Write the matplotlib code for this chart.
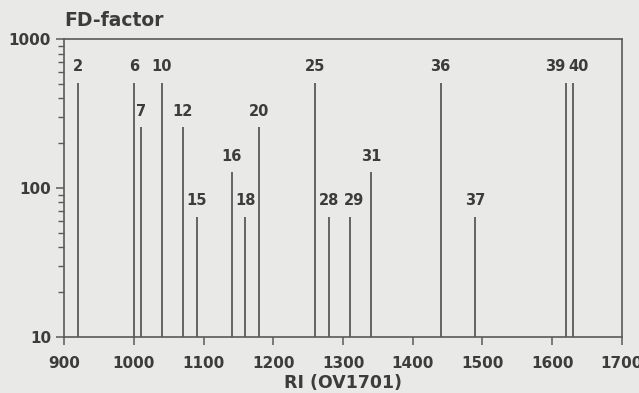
import matplotlib
matplotlib.use("Agg")
import matplotlib.pyplot as plt
from matplotlib.ticker import LogLocator, NullFormatter, FixedLocator, FixedFormatter

peak_ids = ["2", "6", "7", "10", "12", "15", "16", "18", "20", "25", "28", "29", "31", "36", "37", "39", "40"]
ri_values = [920, 1000, 1010, 1040, 1070, 1090, 1140, 1160, 1180, 1260, 1280, 1310, 1340, 1440, 1490, 1620, 1630]
fd_factors = [512, 512, 256, 512, 256, 64, 128, 64, 256, 512, 64, 64, 128, 512, 64, 512, 512]
x_ticks = [900, 1000, 1100, 1200, 1300, 1400, 1500, 1600, 1700]
y_ticks = [10, 100, 1000]

line_col = "#5a5a5a"
text_col = "#3c3c3c"
bg = "#e9e9e7"

plt.rcParams['font.family'] = ['DejaVu Sans']
fig = plt.figure(figsize=(6.39, 3.93), dpi=100, facecolor=bg)
ax = fig.add_axes([0.1006, 0.1433, 0.8724, 0.7567], facecolor=bg)

ax.vlines(ri_values, 10, fd_factors, colors=line_col, linewidth=1.3)

label_dx = {"39": -8, "40": 4, "29": 3}
for pid, x, y in zip(peak_ids, ri_values, fd_factors):
    ax.annotate(pid, (x, y), xytext=(label_dx.get(pid, 0), 6), textcoords="offset points",
                ha="center", va="bottom", fontsize=10.5, fontweight="bold", color=text_col)

ax.set_xlim(900, 1700)
ax.set_yscale("log")
ax.set_ylim(10, 1000)
ax.xaxis.set_major_locator(FixedLocator(x_ticks))
ax.yaxis.set_major_locator(FixedLocator(y_ticks))
ax.yaxis.set_major_formatter(FixedFormatter([str(v) for v in y_ticks]))
ax.yaxis.set_minor_locator(LogLocator(base=10, subs=range(2, 10)))
ax.yaxis.set_minor_formatter(NullFormatter())

for s in ax.spines.values():
    s.set_color(line_col)
    s.set_linewidth(1.2)
ax.tick_params(axis="both", which="major", direction="out", length=6, width=1.1,
               color=line_col, labelcolor=text_col, labelsize=11)
ax.tick_params(axis="x", which="major", pad=8)
ax.tick_params(axis="y", which="minor", direction="out", length=4, width=1.0, color=line_col)
for lab in ax.get_xticklabels() + ax.get_yticklabels():
    lab.set_fontweight("bold")

ax.set_xlabel("RI (OV1701)", fontsize=12.5, fontweight="bold", color=text_col)
ax.xaxis.set_label_coords(0.5, -0.125)
ax.text(0.0, 1.03, "FD-factor", transform=ax.transAxes, ha="left", va="bottom",
        fontsize=13.5, fontweight="bold", color=text_col)

fig.savefig("out.png", dpi=100, facecolor=bg)
